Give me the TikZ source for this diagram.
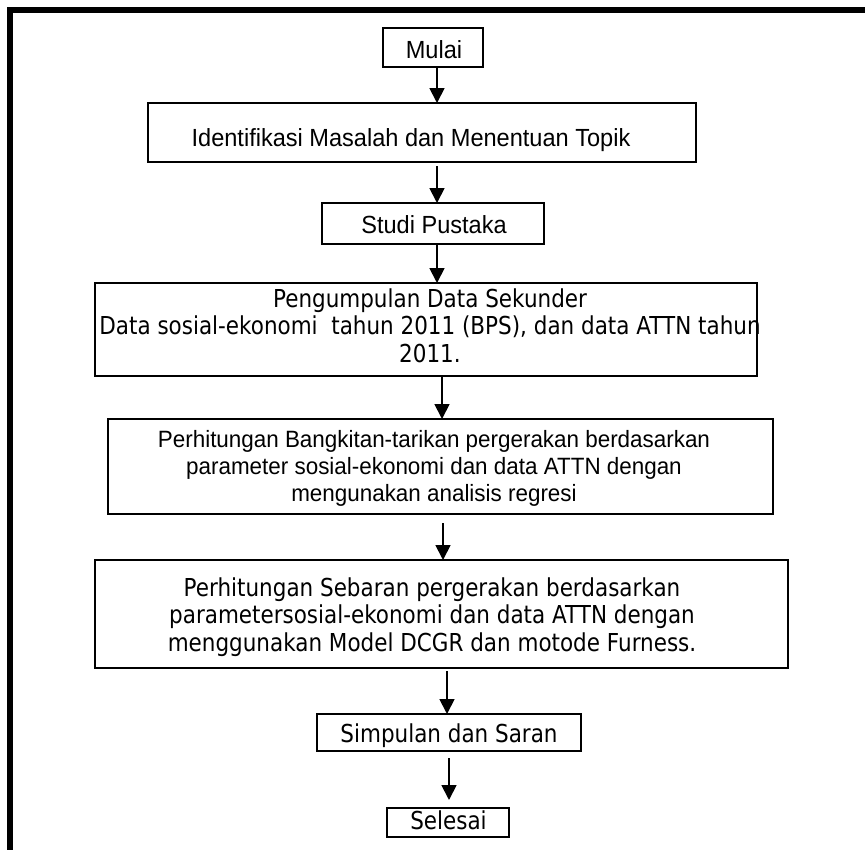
\documentclass[tikz,border=0pt]{standalone}
\usepackage{fontspec}
\usetikzlibrary{arrows.meta}
\newfontfamily\tah[FakeStretch=0.87]{DejaVu Sans}
\newfontfamily\ari[FakeStretch=0.95]{Liberation Sans}
\newcommand\fsA{\tah\fontsize{24.7}{27.75}\selectfont}
\newcommand\fsN{\ari\fontsize{24.8}{27}\selectfont}
\newcommand\fsB{\ari\fontsize{23.6}{27}\selectfont}
\begin{document}
\begin{tikzpicture}[x=1pt,y=-1pt,
  boxnode/.style={draw, line width=1.8pt, inner sep=0pt, outer sep=0pt},
  txt/.style={inner sep=0pt, outer sep=0pt, anchor=base, font=\fsA},
  txtnarrow/.style={txt, font=\fsN},
  txtsmall/.style={txt, font=\fsB},
  arr/.style={line width=1.8pt, -{Triangle[length=15pt,width=15pt]}}]
\useasboundingbox (0,0) rectangle (865,849);
% frame
\draw[line width=6.5pt, line join=miter] (10,860) -- (10,10) -- (875,10);
% boxes
\node[boxnode, minimum width=100pt, minimum height=39pt] (mulai) at (433,47.5) {};
\node[boxnode, minimum width=548pt, minimum height=59pt] (ident) at (422,132.5) {};
\node[boxnode, minimum width=222pt, minimum height=41pt] (studi) at (433,223.5) {};
\node[boxnode, minimum width=662pt, minimum height=93pt] (kumpul) at (426,329.5) {};
\node[boxnode, minimum width=665pt, minimum height=95pt] (bangkit) at (440.5,466.5) {};
\node[boxnode, minimum width=693pt, minimum height=108pt] (sebar) at (441.5,614) {};
\node[boxnode, minimum width=264pt, minimum height=37pt] (simpul) at (449,732.5) {};
\node[boxnode, minimum width=122pt, minimum height=29pt] (selesai) at (448,822.5) {};
% texts
\node[txtnarrow] (mulaiT) at (434,58) {Mulai};
\node[txtnarrow] (identT) at (411,146) {Identifikasi Masalah dan Menentuan Topik};
\node[txtnarrow] (studiT) at (434,233) {Studi Pustaka};
\node[txt] (kumpulT) at (430,307) {\begin{tabular}[t]{@{}c@{}}Pengumpulan Data Sekunder\\ Data sosial-ekonomi\ \ tahun 2011 (BPS), dan data ATTN tahun\\ 2011.\end{tabular}};
\node[txtsmall] (bangkitT) at (434,447) {\begin{tabular}[t]{@{}c@{}}Perhitungan Bangkitan-tarikan pergerakan berdasarkan\\ parameter sosial-ekonomi dan data ATTN dengan\\ mengunakan analisis regresi\end{tabular}};
\node[txt] (sebarT) at (432,596) {\begin{tabular}[t]{@{}c@{}}Perhitungan Sebaran pergerakan berdasarkan\\ parametersosial-ekonomi dan data ATTN dengan\\ menggunakan Model DCGR dan motode Furness.\end{tabular}};
\node[txt] (simpulT) at (449,742) {Simpulan dan Saran};
\node[txt] (selesaiT) at (448.5,829) {Selesai};
% connectors
\draw[arr] ([xshift=4pt]mulai.south) -- ([xshift=4pt]mulai.south |- ident.north);
\draw[arr, shorten <=4pt] ([xshift=15pt]ident.south) -- ([xshift=15pt]ident.south |- studi.north);
\draw[arr] ([xshift=4pt]studi.south) -- ([xshift=4pt]studi.south |- kumpul.north);
\draw[arr] ([xshift=16pt]kumpul.south) -- ([xshift=16pt]kumpul.south |- bangkit.north);
\draw[arr, shorten <=9pt] ([xshift=2.5pt]bangkit.south) -- ([xshift=2.5pt]bangkit.south |- sebar.north);
\draw[arr, shorten <=3pt] ([xshift=5.5pt]sebar.south) -- ([xshift=5.5pt]sebar.south |- simpul.north);
\draw[arr, shorten <=7pt, shorten >=8pt] (simpul.south) -- (simpul.south |- selesai.north);
\end{tikzpicture}
\end{document}
